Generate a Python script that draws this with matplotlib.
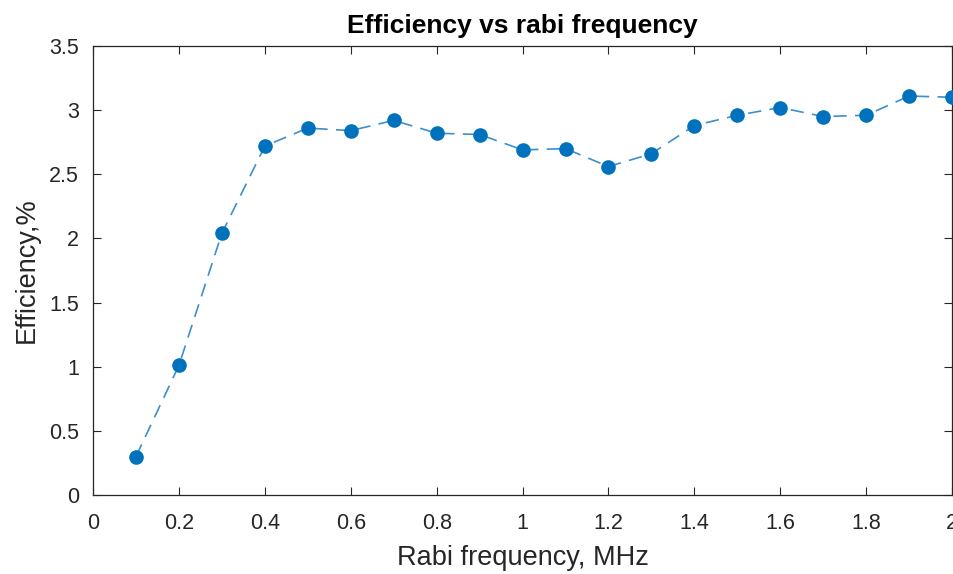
import matplotlib
matplotlib.use("Agg")
import matplotlib.pyplot as plt

rabi_freq = [0.1, 0.2, 0.3, 0.4, 0.5, 0.6, 0.7, 0.8, 0.9, 1.0,
             1.1, 1.2, 1.3, 1.4, 1.5, 1.6, 1.7, 1.8, 1.9, 2.0]
efficiency = [0.30, 1.01, 2.04, 2.72, 2.86, 2.84, 2.92, 2.82, 2.81, 2.69,
              2.70, 2.56, 2.66, 2.88, 2.96, 3.02, 2.95, 2.96, 3.11, 3.10]
xticks = [0, 0.2, 0.4, 0.6, 0.8, 1, 1.2, 1.4, 1.6, 1.8, 2]
xticklabels = ["0", "0.2", "0.4", "0.6", "0.8", "1", "1.2", "1.4", "1.6", "1.8", "2"]
yticks = [0, 0.5, 1, 1.5, 2, 2.5, 3, 3.5]
yticklabels = ["0", "0.5", "1", "1.5", "2", "2.5", "3", "3.5"]

plt.rcParams['font.family'] = ['Liberation Sans', 'DejaVu Sans']

fig = plt.figure(figsize=(9.54, 5.74), dpi=100)
ax = fig.add_axes([0.0975, 0.1376, 0.9005, 0.7823])

color = '#0072BD'
ax.plot(rabi_freq, efficiency, linestyle='none', color=color,
        marker='o', markersize=9.5, markerfacecolor=color, markeredgecolor=color, zorder=3)
ax.plot(rabi_freq, efficiency, linestyle=(0, (8, 5)), color='#3a8fd0', linewidth=1.2, zorder=2)

ax.set_xlim(0, 2)
ax.set_ylim(0, 3.5)
ax.set_xticks(xticks)
ax.set_xticklabels(xticklabels)
ax.set_yticks(yticks)
ax.set_yticklabels(yticklabels)

ax.tick_params(direction='in', length=6, width=0.8, labelsize=15.5, colors='#262626',
               top=True, right=True)
ax.tick_params(axis='y', pad=10)
ax.tick_params(axis='x', pad=13)
for s in ax.spines.values():
    s.set_color('#262626')
    s.set_linewidth(0.9)

ax.set_xlabel('Rabi frequency, MHz', fontsize=19.5, color='#262626', labelpad=8)
ax.set_ylabel('Efficiency,%', fontsize=19.5, color='#262626', labelpad=7)
ax.set_title('Efficiency vs rabi frequency', fontsize=19, fontweight='bold', pad=9)

fig.savefig('out.png', dpi=100)
